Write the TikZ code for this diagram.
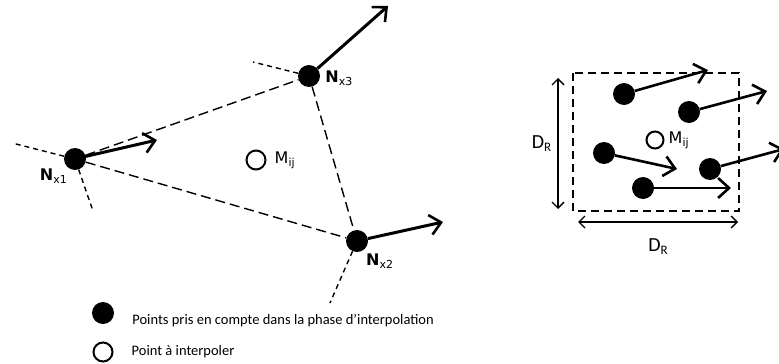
\documentclass[tikz,border=0pt]{standalone}
\usepackage{fontspec}
\setmainfont{Carlito}
\newfontfamily\dejavu{DejaVu Sans}
\usetikzlibrary{arrows.meta, positioning}

\newcommand{\nlab}[1]{{\dejavu\fontsize{16}{16}\selectfont\textbf{N}\raisebox{-3pt}{\fontsize{11}{11}\selectfont #1}}}
\newcommand{\mlab}{{\dejavu\fontsize{16}{16}\selectfont M\raisebox{-3pt}{\fontsize{11}{11}\selectfont ij}}}
\newcommand{\dlab}{{\fontsize{20}{20}\selectfont D\raisebox{-3pt}{\fontsize{13}{13}\selectfont R}}}

\begin{document}
\begin{tikzpicture}[
  x=1pt, y=-1pt,
  node distance=4pt,
  dot/.style={circle, fill=black, inner sep=0pt, minimum size=22pt},
  hole/.style={circle, draw=black, line width=2pt, inner sep=0pt, minimum size=19pt},
  lbl/.style={inner sep=0pt},
  vec/.style={line width=3pt, -{Straight Barb[length=11pt, width=20pt, line width=2.6pt]}},
  vecs/.style={vec, line width=2.6pt},
  edge/.style={line width=1.4pt, dash pattern=on 10pt off 5pt},
  ext/.style={line width=1.4pt, dash pattern=on 5pt off 4pt},
  frame/.style={line width=2pt, dash pattern=on 8pt off 5pt},
  dim/.style={line width=1.4pt, {Straight Barb[length=6pt, width=12pt]}-{Straight Barb[length=6pt, width=12pt]}}
]
\useasboundingbox (0,0) rectangle (779,364);

% left part: triangle of neighbours
\node[dot] (n1) at (75,159) {};
\node[dot] (n3) at (309,76) {};
\node[dot] (n2) at (357,241) {};
\node[hole] (m1) at (256,160) {};

\node[lbl, right=5pt of n3, yshift=-2pt] (l3) {\nlab{x3}};
\node[lbl, below left=2pt and 0pt of n1] (l1) {\nlab{x1}};
\node[lbl, below right=5pt and 1pt of n2] (l2) {\nlab{x2}};
\node[lbl, right=8pt of m1] (lm1) {\mlab};

\draw[edge] (n1) -- (n3);
\draw[edge] (n1) -- (n2);
\draw[edge] (n3) -- (n2);

\coordinate (e1a) at (12,143);
\coordinate (e1b) at (93,211);
\coordinate (e3a) at (253,62);
\coordinate (e2a) at (330,303);
\draw[ext] (n1) -- (e1a);
\draw[ext] (n1) -- (e1b);
\draw[ext] (n3) -- (e3a);
\draw[ext] (n2) -- (e2a);

\coordinate (t1) at (157,140);
\coordinate (t3) at (388,6);
\coordinate (t2) at (443,222);
\draw[vec] (n1.center) ++(8,-2) -- (t1);
\draw[vec] (n3) -- (t3);
\draw[vec] (n2) -- (t2);

% right part: search window
\coordinate (fa) at (573,73);
\coordinate (fb) at (739,211);
\draw[frame] (fa) rectangle (fb);

\node[dot] (d1) at (624,94) {};
\node[dot] (d2) at (689,112) {};
\node[dot] (d3) at (604,153) {};
\node[dot] (d4) at (710,169) {};
\node[dot] (d5) at (643,188) {};
\node[hole, minimum size=17pt] (m2) at (655,140) {};
\node[lbl, right=4pt of m2] (lm2) {\mlab};

\coordinate (s1) at (708,70);
\coordinate (s2) at (767,91);
\coordinate (s3) at (677,169);
\coordinate (s4) at (784,149);
\coordinate (s5) at (731,188);
\draw[vecs] (d1) -- (s1);
\draw[vecs] (d2) -- (s2);
\draw[vecs] (d3) -- (s3);
\draw[vecs] (d4) -- (s4);
\draw[vecs] (d5) -- (s5);

\coordinate (va) at (558,78);
\coordinate (vb) at (558,209);
\coordinate (ha) at (578,222);
\coordinate (hb) at (738,222);
\draw[dim] (va) -- node[lbl, left=6pt] (dl1) {\dlab} (vb);
\draw[dim] (ha) -- node[lbl, below=16pt] (dl2) {\dlab} (hb);

% legend
\node[dot] (g1) at (103,313) {};
\node[hole] (g2) at (103,352) {};
\node[lbl, right=18pt of g1, yshift=-8pt, font=\fontsize{14.5}{14.5}\selectfont] (gt1) {Points pris en compte dans la phase d’interpolation};
\node[lbl, right=18pt of g2, font=\fontsize{14.5}{14.5}\selectfont] (gt2) {Point à interpoler};
\end{tikzpicture}
\end{document}
